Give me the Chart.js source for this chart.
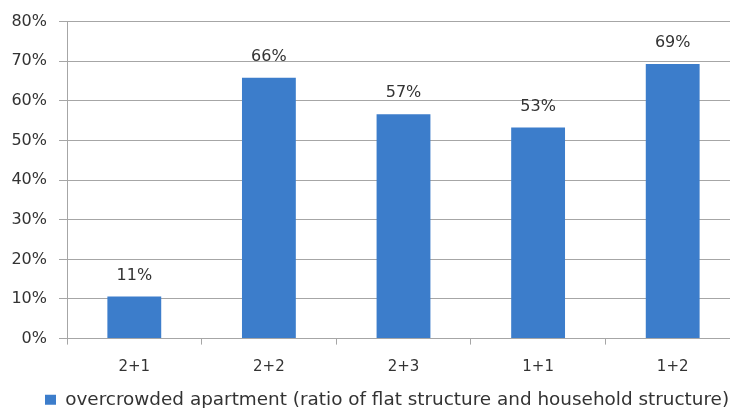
<!DOCTYPE html>
<html>
<head>
<meta charset="utf-8">
<script src="https://cdn.jsdelivr.net/npm/chart.js@4.4.1/dist/chart.umd.min.js"></script>
<style>
  html, body { margin: 0; padding: 0; background: #fff; overflow: hidden; }
  #wrap { position: relative; width: 740px; height: 408px; }
</style>
</head>
<body>
<div id="wrap"><canvas id="chart"></canvas></div>
<script>
// 数据
const categories = ['2+1', '2+2', '2+3', '1+1', '1+2'];
const shares = [10.6, 65.8, 56.6, 53.3, 69.3];
const seriesName = 'overcrowded apartment (ratio of flat structure and household structure)';

const FONT = '"DejaVu Sans", Verdana, sans-serif';
const GRID = '#a6a6a6';

// 柱顶百分比标签
const barLabels = {
    id: 'barLabels',
    afterDatasetsDraw(chart) {
        const ctx = chart.ctx;
        const meta = chart.getDatasetMeta(0);
        ctx.save();
        ctx.font = '16px ' + FONT;
        ctx.fillStyle = '#333';
        ctx.textAlign = 'center';
        ctx.textBaseline = 'bottom';
        meta.data.forEach((bar, i) => {
            ctx.fillText(Math.round(shares[i]) + '%', bar.x, bar.y - 13);
        });
        ctx.restore();
    }
};

// 图例整体右移
const legendShift = {
    id: 'legendShift',
    afterLayout(chart) {
        const lg = chart.legend;
        if (lg) { lg.left += 45; lg.right += 45; }
    }
};

const ctx = document.getElementById('chart').getContext('2d');
const chart = new Chart(ctx, {
    type: 'bar',
    data: {
        labels: categories,
        datasets: [{
            label: seriesName,
            data: shares,
            backgroundColor: '#3c7dcb',
            borderWidth: 0,
            categoryPercentage: 1,
            barPercentage: 0.4
        }]
    },
    options: {
        responsive: true,
        maintainAspectRatio: false,
        animation: false,
        layout: { padding: { left: 0, top: 12, right: 0, bottom: -11 } },
        plugins: {
            legend: {
                display: true,
                position: 'bottom',
                align: 'start',
                labels: {
                    boxWidth: 11,
                    boxHeight: 10,
                    color: '#333',
                    font: { family: FONT, size: 18.4 },
                    padding: 0
                }
            },
            tooltip: { enabled: false }
        },
        scales: {
            y: {
                min: 0,
                max: 80,
                ticks: {
                    stepSize: 10,
                    color: '#333',
                    padding: 12,
                    font: { family: FONT, size: 16 },
                    callback: v => v + '%'
                },
                grid: { color: GRID, tickLength: 8, lineWidth: 1 },
                border: { color: GRID },
                afterFit(scale) { scale.width = 67; }
            },
            x: {
                ticks: {
                    color: '#333',
                    padding: 14,
                    font: { family: FONT, size: 15 }
                },
                grid: { drawOnChartArea: false, offset: true, tickLength: 6, color: GRID },
                border: { color: GRID },
                afterFit(scale) { scale.height = 52; }
            }
        }
    },
    plugins: [barLabels, legendShift]
});
</script>
</body>
</html>
